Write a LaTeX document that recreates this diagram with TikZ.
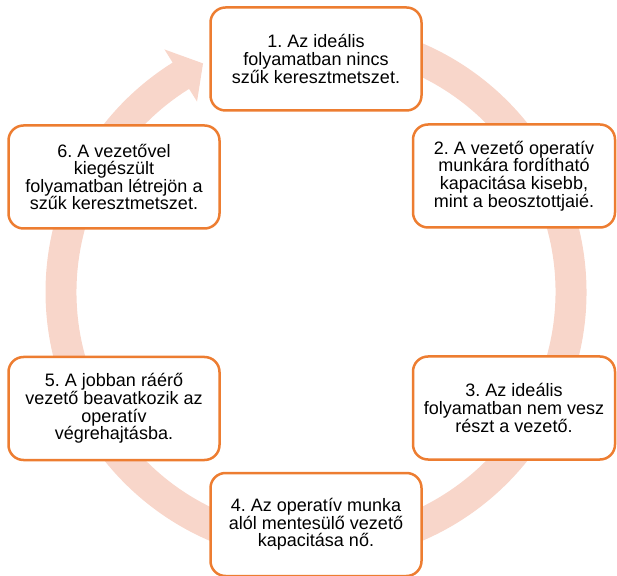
\documentclass[tikz,border=0pt]{standalone}
\usepackage{fontspec}
\setmainfont{Liberation Sans}
\frenchspacing
\definecolor{bord}{RGB}{237,125,49}
\definecolor{band}{RGB}{248,214,202}
\begin{document}
\begin{tikzpicture}[x=1pt,y=1pt,
  box/.style={draw=bord, line width=2.5pt, fill=white, rounded corners=15pt,
    minimum width=211pt, minimum height=103pt, align=center, inner sep=0pt,
    font=\fontsize{18}{17.6}\selectfont},
  boxr/.style={box, minimum width=202pt}]
\useasboundingbox (0,0) rectangle (617,575);
\begin{scope}[shift={(316,283)}]
  \fill[band] (95:270.5) arc[start angle=95, end angle=-238, radius=270.5]
    -- (-238:286) -- (-243.7:255) -- (-238:224.5)
    -- (-238:239.5) arc[start angle=-238, end angle=95, radius=239.5] -- cycle;
\end{scope}
\node[box]  (b1) at (316,516)   {1. Az ideális\\folyamatban nincs\\szűk keresztmetszet.};
\node[boxr] (b2) at (514,399)   {2. A vezető operatív\\munkára fordítható\\kapacitása kisebb,\\mint a beosztottjaié.};
\node[boxr] (b3) at (514,167)   {3. Az ideális\\folyamatban nem vesz\\részt a vezető.};
\node[box]  (b4) at (316,50.5)  {4. Az operatív munka\\alól mentesülő vezető\\kapacitása nő.};
\node[box]  (b5) at (114,166.5) {5. A jobban ráérő\\vezető beavatkozik az\\operatív\\végrehajtásba.};
\node[box]  (b6) at (114,398)   {6. A vezetővel\\kiegészült\\folyamatban létrejön a\\szűk keresztmetszet.};
\end{tikzpicture}
\end{document}
